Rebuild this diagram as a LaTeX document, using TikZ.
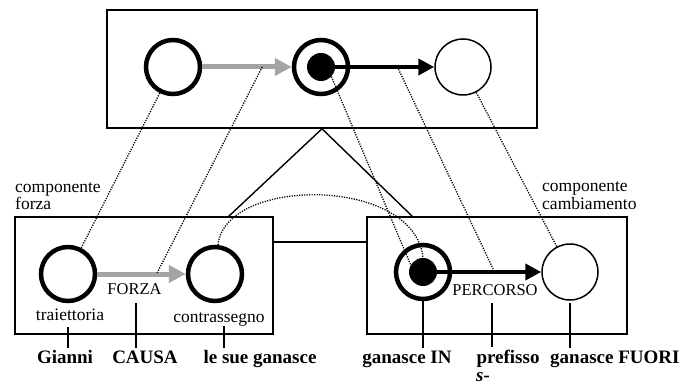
\documentclass[tikz,border=0pt]{standalone}
\usepackage{fontspec}
\setmainfont{Liberation Serif}
\usetikzlibrary{arrows.meta,calc}
\definecolor{forcegray}{HTML}{A4A4A4}
\begin{document}
\begin{tikzpicture}[x=1pt,y=-1pt,
  frame/.style={draw, line width=1.6pt, inner sep=0pt},
  ring/.style={circle, draw, line width=4.5pt, minimum size=54pt, inner sep=0pt},
  thinring/.style={circle, draw, line width=1.5pt, minimum size=56pt, inner sep=0pt},
  dot/.style={circle, fill, minimum size=28pt, inner sep=0pt},
  forcearrow/.style={draw=forcegray, line width=5pt, -{Triangle[length=17pt,width=17pt]}},
  patharrow/.style={line width=4.5pt, -{Triangle[length=16pt,width=16pt]}},
  link/.style={line width=1.3pt, dash pattern=on 1.2pt off 1.3pt},
  wedge/.style={line width=1.4pt},
  tick/.style={line width=1.2pt},
  lab/.style={font=\fontsize{17.5}{15}\selectfont, inner sep=0pt},
  caps/.style={font=\fontsize{16.5}{15}\selectfont, inner sep=0pt},
  role/.style={font=\bfseries\fontsize{19}{19}\selectfont, inner sep=0pt},
]
\useasboundingbox (0,0) rectangle (684,387);

% frames
\node[frame, minimum width=430pt, minimum height=118pt] (TB) at (322,69) {};
\node[frame, minimum width=258pt, minimum height=117pt] (LB) at (144,275.5) {};
\node[frame, minimum width=260pt, minimum height=117pt] (RB) at (497,275.5) {};

% upper event
\node[ring] (T1) at (173,67) {};
\node[ring] (T2) at (321,67) {};
\node[dot] (T2d) at (321,67) {};
\node[thinring] (T3) at (463,67) {};
\draw[forcearrow] (T1) -- coordinate[pos=0.67] (gT) (T2);
\draw[patharrow] (T2d.center) -- coordinate[pos=0.675] (bT) (T3);

% force component
\node[ring] (L1) at (68,274) {};
\node[ring] (L2) at (215,274) {};
\draw[forcearrow] (L1) -- coordinate[pos=0.67] (gL) (L2);

% change component
\node[ring] (R1) at (423,272) {};
\node[dot] (R1d) at (423,272) {};
\node[thinring] (R2) at (570,272) {};
\draw[patharrow] (R1d.center) -- coordinate[pos=0.605] (bR) (R2);

% link between the two components and the wedge
\coordinate (lk) at (0,242);
\draw[frame] (LB.east |- lk) -- (RB.west |- lk);
\coordinate (footL) at (228,217);
\coordinate (footR) at (413,217);
\draw[wedge] (footL) -- (TB.south) -- (footR);

% correspondences
\draw[link] (T1) -- (L1);
\draw[link] (gT) -- (gL);
\draw[link] (T2d.-43) -- (R1d.150);
\draw[link] (bT) -- (bR);
\draw[link] (T3) -- (R2);
\draw[link] (L2.84) .. controls (225,176) and (415,176) .. (R1d.north);

% inner labels
\node[lab, anchor=base west] (cf1) at (15,193) {componente};
\node[lab, anchor=base west] (cf2) at (15,210) {forza};
\node[lab, anchor=base west] (cc1) at (542,192) {componente};
\node[lab, anchor=base west] (cc2) at (542,209) {cambiamento};
\node[lab, anchor=base] (traj) at (70,320) {traiettoria};
\node[caps, anchor=base] (forza) at (134.5,294) {FORZA};
\node[lab, anchor=base] (contr) at (219,322) {contrassegno};
\node[caps, anchor=base] (perc) at (495,295) {PERCORSO};

% lexical labels
\node[role, anchor=base] (gianni) at (65,363) {Gianni};
\node[role, anchor=base] (causa) at (145,363) {CAUSA};
\node[role, anchor=base] (sue) at (260,363) {le sue ganasce};
\node[role, anchor=base] (ganin) at (407,363) {ganasce IN};
\node[role, anchor=base] (pref) at (508,363) {prefisso};
\node[role, anchor=base west] (fuori) at (550,363) {ganasce FUORI};
\node[role, font=\bfseries\itshape\fontsize{19}{19}\selectfont, anchor=base] (spref) at (483,381) {s-};

% ticks
\draw[tick, shorten <=7pt, shorten >=2pt] ([xshift=-2pt]traj.south) -- ([xshift=-2pt]traj.south |- gianni.north);
\draw[tick, shorten <=9pt, shorten >=2pt] ([xshift=1.5pt]forza.south) -- ([xshift=1.5pt]forza.south |- causa.north);
\draw[tick, shorten >=2pt] ([xshift=5pt]contr.south) -- ([xshift=5pt]contr.south |- sue.north);
\draw[tick, shorten >=2pt] (R1.south) -- (R1.south |- ganin.north);
\draw[tick, shorten <=8pt, shorten >=2pt] ([xshift=-3pt]perc.south) -- ([xshift=-3pt]perc.south |- pref.north);
\draw[tick, shorten <=2pt, shorten >=2pt] (R2.south) -- (R2.south |- fuori.north);
\end{tikzpicture}
\end{document}
